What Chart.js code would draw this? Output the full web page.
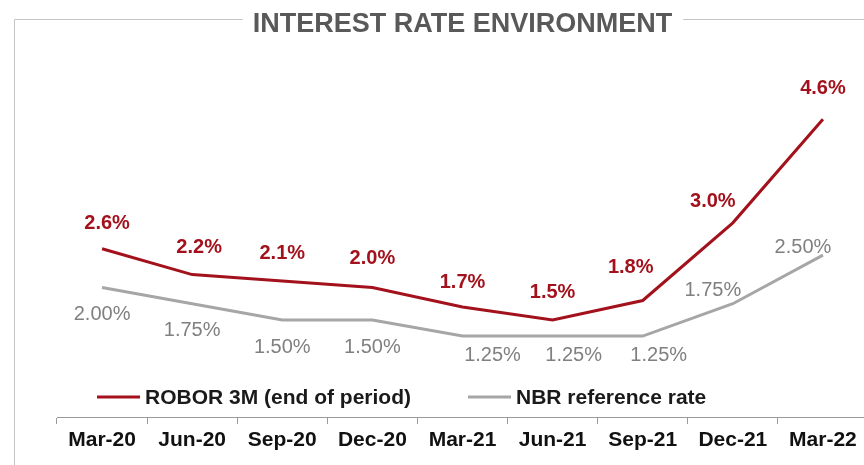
<!DOCTYPE html>
<html>
<head>
<meta charset="utf-8">
<script src="https://cdn.jsdelivr.net/npm/chart.js@4"></script>
<style>
  html, body { margin: 0; padding: 0; background: #fff; overflow: hidden; }
  #rateChart { display: block; }
</style>
</head>
<body>
<canvas id="rateChart" width="880" height="465"></canvas>
<script>
const chartTitle = 'INTEREST RATE ENVIRONMENT';
const categories = ['Mar-20', 'Jun-20', 'Sep-20', 'Dec-20', 'Mar-21', 'Jun-21', 'Sep-21', 'Dec-21', 'Mar-22'];
const roborValues = [2.6, 2.2, 2.1, 2.0, 1.7, 1.5, 1.8, 3.0, 4.6];
const nbrValues = [2.00, 1.75, 1.50, 1.50, 1.25, 1.25, 1.25, 1.75, 2.50];
const seriesNames = ['ROBOR 3M (end of period)', 'NBR reference rate'];

const FONT = 'Arial, "Liberation Sans", Helvetica, sans-serif';
const RED = '#a3121c';
const GREY = '#a6a6a6';

// title sitting in the gap of the grey frame around the chart
const framePlugin = {
  id: 'frame',
  beforeDraw(chart) {
    const { ctx, chartArea } = chart;
    const cx = (chartArea.left + chartArea.right) / 2;
    ctx.save();
    ctx.font = 'bold 27px ' + FONT;
    const w = ctx.measureText(chartTitle).width;
    ctx.strokeStyle = '#c4c4c4';
    ctx.lineWidth = 1;
    ctx.beginPath();
    ctx.moveTo(14.5, chart.height);
    ctx.lineTo(14.5, 19.5);
    ctx.lineTo(cx - w / 2 - 10, 19.5);
    ctx.moveTo(cx + w / 2 + 11, 19.5);
    ctx.lineTo(chart.width, 19.5);
    ctx.stroke();
    ctx.fillStyle = '#595959';
    ctx.textAlign = 'center';
    ctx.textBaseline = 'alphabetic';
    ctx.fillText(chartTitle, cx, 32);
    ctx.restore();
  }
};

// value labels next to each point
const pointLabelsPlugin = {
  id: 'pointLabels',
  afterDatasetsDraw(chart, args, opts) {
    const { ctx } = chart;
    ctx.save();
    ctx.textAlign = 'center';
    ctx.textBaseline = 'middle';
    chart.data.datasets.forEach((ds, di) => {
      const cfg = opts.series[di];
      const meta = chart.getDatasetMeta(di);
      ctx.font = cfg.font;
      ctx.fillStyle = cfg.color;
      meta.data.forEach((pt, i) => {
        const [dx, dy] = cfg.offsets[i];
        ctx.fillText(ds.data[i].toFixed(cfg.decimals) + '%', pt.x + dx, pt.y + dy);
      });
    });
    ctx.restore();
  }
};

// legend drawn inside the plot, just above the category axis
const innerLegendPlugin = {
  id: 'innerLegend',
  afterDraw(chart, args, opts) {
    const { ctx, chartArea } = chart;
    ctx.save();
    ctx.font = 'bold 21px ' + FONT;
    ctx.fillStyle = '#1a1a1a';
    ctx.textBaseline = 'middle';
    ctx.textAlign = 'left';
    chart.data.datasets.forEach((ds, di) => {
      const x = chartArea.left + opts.starts[di];
      ctx.strokeStyle = ds.borderColor;
      ctx.lineWidth = 3;
      ctx.beginPath();
      ctx.moveTo(x, opts.y);
      ctx.lineTo(x + 43, opts.y);
      ctx.stroke();
      ctx.fillText(ds.label, x + 48, opts.y + 1);
    });
    ctx.restore();
  }
};

new Chart(document.getElementById('rateChart'), {
  type: 'line',
  data: {
    labels: categories,
    datasets: [
      {
        label: seriesNames[0],
        data: roborValues,
        borderColor: RED,
        borderWidth: 3,
        pointRadius: 0,
        tension: 0
      },
      {
        label: seriesNames[1],
        data: nbrValues,
        borderColor: GREY,
        borderWidth: 3,
        pointRadius: 0,
        tension: 0
      }
    ]
  },
  options: {
    responsive: false,
    animation: false,
    layout: { padding: { left: 57, right: 12, top: 61, bottom: 0 } },
    scales: {
      x: {
        offset: true,
        grid: {
          offset: true,
          drawOnChartArea: false,
          drawTicks: true,
          tickLength: 7,
          color: '#9a9a9a'
        },
        border: { display: true, color: '#9a9a9a', width: 1 },
        ticks: {
          color: '#111',
          font: { family: FONT, size: 21, weight: 'bold' },
          padding: 4,
          maxRotation: 0,
          autoSkip: false
        },
        afterFit(scale) { scale.height = 48; }
      },
      y: {
        display: false,
        min: 0,
        max: 5.5
      }
    },
    plugins: {
      legend: { display: false },
      tooltip: { enabled: false },
      title: { display: false },
      innerLegend: { starts: [40, 411], y: 397 },
      pointLabels: {
        series: [
          {
            font: 'bold 20px ' + FONT,
            color: RED,
            decimals: 1,
            offsets: [[5, -25], [7, -27], [0, -28], [0, -29], [0, -24], [0, -27], [-12, -33], [-20, -21], [0, -31]]
          },
          {
            font: '20px ' + FONT,
            color: '#808080',
            decimals: 2,
            offsets: [[0, 27], [0, 27], [0, 28], [0, 28], [30, 19], [21, 19], [16, 19], [-20, -13], [-20, -8]]
          }
        ]
      }
    }
  },
  plugins: [framePlugin, pointLabelsPlugin, innerLegendPlugin]
});
</script>
</body>
</html>
